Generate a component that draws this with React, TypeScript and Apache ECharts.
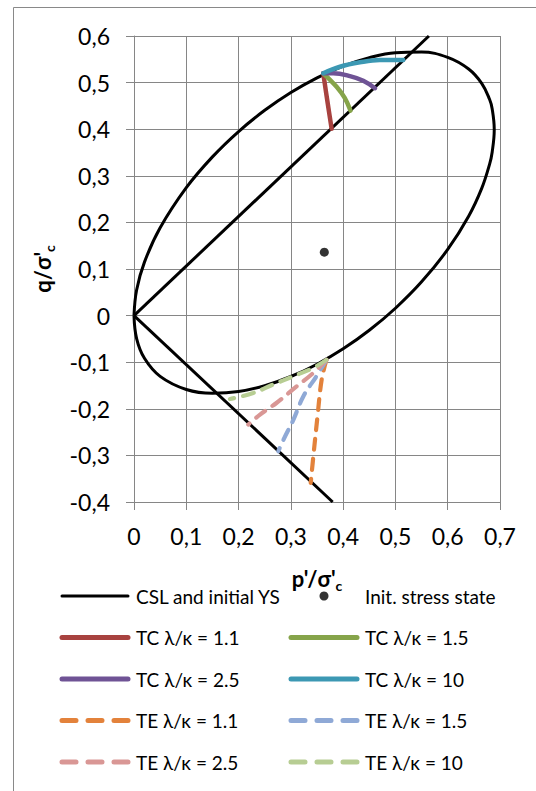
import React, { useEffect, useRef } from "react";
import * as echarts from "echarts";

const FONT = "Lato, 'Open Sans', sans-serif";

// Yield surface (ellipse): [p'/σ'c, q/σ'c]
const ellipse: [number, number][] = [
  [0, 0], [0.005, 0.0551], [0.02, 0.1148], [0.05, 0.1884], [0.1, 0.2745],
  [0.15, 0.3406], [0.2, 0.395], [0.25, 0.4405], [0.3, 0.4787], [0.35, 0.5103],
  [0.4, 0.5353], [0.45, 0.5535], [0.5, 0.5642], [0.55, 0.5656], [0.6, 0.5541],
  [0.64, 0.5292], [0.665, 0.4984], [0.68, 0.4642], [0.685, 0.444], [0.689, 0.3996],
  [0.685, 0.3506], [0.68, 0.3246], [0.665, 0.273], [0.64, 0.2132], [0.6, 0.1419],
  [0.55, 0.0724], [0.5, 0.0158], [0.45, -0.0315], [0.4, -0.0713], [0.35, -0.1043],
  [0.3, -0.1307], [0.25, -0.1505], [0.2, -0.163], [0.15, -0.1666], [0.1, -0.1585],
  [0.05, -0.1304], [0.02, -0.0916], [0.005, -0.0493], [0, 0],
];
const cslComp: [number, number][] = [[0, 0], [0.564, 0.6]];
const cslExt: [number, number][] = [[0, 0], [0.38, -0.4]];
const initState: [number, number][] = [[0.364, 0.136]];

const tc11: [number, number][] = [[0.362, 0.52], [0.37, 0.459], [0.378, 0.401]];
const tc15: [number, number][] = [[0.362, 0.52], [0.3875, 0.491], [0.403, 0.467], [0.414, 0.44]];
const tc25: [number, number][] = [[0.362, 0.52], [0.381, 0.52], [0.413, 0.514], [0.4385, 0.504], [0.461, 0.488]];
const tc10: [number, number][] = [[0.362, 0.52], [0.394, 0.534], [0.432, 0.5435], [0.47, 0.5485], [0.515, 0.5485]];

const te11: [number, number][] = [[0.368, -0.095], [0.359, -0.137], [0.351, -0.216], [0.343, -0.302], [0.338, -0.359]];
const te15: [number, number][] = [[0.368, -0.095], [0.349, -0.13], [0.324, -0.173], [0.305, -0.223], [0.286, -0.266], [0.276, -0.291]];
const te25: [number, number][] = [[0.368, -0.095], [0.343, -0.123], [0.311, -0.152], [0.273, -0.187], [0.241, -0.2125], [0.2186, -0.234]];
const te10: [number, number][] = [[0.368, -0.095], [0.343, -0.112], [0.305, -0.13], [0.266, -0.148], [0.228, -0.166], [0.1836, -0.179]];

const CSL_NAME = "CSL and initial YS";
const INIT_NAME = "Init. stress state";
const tcNames = ["TC λ/κ = 1.1", "TC λ/κ = 1.5", "TC λ/κ = 2.5", "TC λ/κ = 10"];
const teNames = ["TE λ/κ = 1.1", "TE λ/κ = 1.5", "TE λ/κ = 2.5", "TE λ/κ = 10"];
const tcColors = ["#A8423F", "#86A44A", "#6F5395", "#3C98B3"];
const teColors = ["#E3823B", "#8FA9D6", "#D99795", "#B7CD93"];
const tcData = [tc11, tc15, tc25, tc10];
const teData = [te11, te15, te25, te10];

const DASH = [11, 9];
const LEGEND_DASH = [14, 12];

const fmt = (v: number) => (Math.abs(v) < 1e-9 ? "0" : v.toFixed(1).replace(".", ","));

export default function App() {
  const ref = useRef<HTMLDivElement>(null);
  useEffect(() => {
    document.body.style.margin = "0";
    if (!ref.current) return;
    const chart = echarts.init(ref.current, undefined, { renderer: "svg" });
    const lineBase = { type: "line", symbol: "none", showSymbol: false };
    const series: any[] = [
      { ...lineBase, name: CSL_NAME, data: ellipse, smooth: 0.4, lineStyle: { color: "#000", width: 3 }, itemStyle: { color: "#000" }, z: 2 },
      { ...lineBase, name: CSL_NAME, data: cslComp, lineStyle: { color: "#000", width: 3 }, itemStyle: { color: "#000" }, z: 2 },
      { ...lineBase, name: CSL_NAME, data: cslExt, lineStyle: { color: "#000", width: 3 }, itemStyle: { color: "#000" }, z: 2 },
      { type: "scatter", name: INIT_NAME, data: initState, symbol: "circle", symbolSize: 9, itemStyle: { color: "#000" }, z: 3 },
    ];
    tcData.forEach((d, i) => {
      series.push({ ...lineBase, name: tcNames[i], data: d, smooth: 0.4, lineStyle: { color: tcColors[i], width: 4.5, cap: "round" }, itemStyle: { color: tcColors[i] }, z: 4 });
    });
    teData.forEach((d, i) => {
      series.push({ ...lineBase, name: teNames[i], data: d, smooth: 0.4, lineStyle: { color: teColors[i], width: 4.2, type: DASH, cap: "round" }, itemStyle: { color: teColors[i] }, z: 4 });
    });

    const hidden = { color: "rgba(0,0,0,0)", borderWidth: 0, borderColor: "rgba(0,0,0,0)" };
    const lineItem = (name: string, color: string, width: number, dashed: boolean) => ({
      name,
      itemStyle: hidden,
      lineStyle: { color, width, type: dashed ? LEGEND_DASH : "solid", cap: "round" },
    });

    const legendCommon = {
      orient: "vertical",
      padding: 0,
      itemWidth: 66,
      itemHeight: 9,
      itemGap: 21.5,
      top: 586,
      textStyle: { fontFamily: FONT, fontSize: 19, color: "#000", lineHeight: 20, padding: [0, 0, 0, 3] },
      selectedMode: false,
    };
    chart.setOption({
      animation: false,
      backgroundColor: "#fff",
      graphic: [
        { type: "rect", shape: { x: 13.5, y: 7.5, width: 700, height: 1000 }, style: { fill: "none", stroke: "#898989", lineWidth: 1 }, silent: true },
      ],
      grid: { left: 134, right: 36, top: 36, bottom: 289, containLabel: false },
      legend: [
        {
          ...legendCommon,
          left: 59.5,
          data: [
            lineItem(CSL_NAME, "#000", 3, false),
            lineItem(tcNames[0], tcColors[0], 5, false),
            lineItem(tcNames[2], tcColors[2], 5, false),
            lineItem(teNames[0], teColors[0], 5, true),
            lineItem(teNames[2], teColors[2], 5, true),
          ],
        },
        {
          ...legendCommon,
          left: 288.5,
          data: [
            { name: INIT_NAME, icon: "circle", itemStyle: { color: "#000" } },
            lineItem(tcNames[1], tcColors[1], 5, false),
            lineItem(tcNames[3], tcColors[3], 5, false),
            lineItem(teNames[1], teColors[1], 5, true),
            lineItem(teNames[3], teColors[3], 5, true),
          ],
        },
      ],
      xAxis: {
        type: "value",
        min: 0,
        max: 0.7,
        interval: 0.1,
        name: "{a|p'/σ'}{b|c}",
        nameLocation: "middle",
        nameGap: 62,
        nameTextStyle: {
          rich: {
            a: { fontFamily: FONT, fontSize: 22, fontWeight: "bold", color: "#000", lineHeight: 28 },
            b: { fontFamily: FONT, fontSize: 14, fontWeight: "bold", color: "#000", lineHeight: 28, verticalAlign: "bottom" },
          },
        },
        axisLine: { onZero: false, lineStyle: { color: "#868686", width: 1 } },
        axisTick: { show: true, inside: false, length: 8, lineStyle: { color: "#868686" } },
        splitLine: { show: true, lineStyle: { color: "#868686", width: 1 } },
        axisLabel: { formatter: fmt, fontFamily: FONT, fontSize: 23, color: "#000", margin: 22 },
      },
      yAxis: {
        type: "value",
        min: -0.4,
        max: 0.6,
        interval: 0.1,
        name: "{a|q/σ'}{b|c}",
        nameLocation: "middle",
        nameRotate: 90,
        nameGap: 78,
        nameTextStyle: {
          rich: {
            a: { fontFamily: FONT, fontSize: 22, fontWeight: "bold", color: "#000", lineHeight: 28 },
            b: { fontFamily: FONT, fontSize: 14, fontWeight: "bold", color: "#000", lineHeight: 28, verticalAlign: "bottom" },
          },
        },
        axisLine: { onZero: false, lineStyle: { color: "#868686", width: 1 } },
        axisTick: { show: true, inside: false, length: 8, lineStyle: { color: "#868686" } },
        splitLine: { show: true, lineStyle: { color: "#868686", width: 1 } },
        axisLabel: { formatter: fmt, fontFamily: FONT, fontSize: 23, color: "#000", margin: 24 },
      },
      series,
    });
    return () => chart.dispose();
  }, []);
  return <div ref={ref} style={{ width: 536, height: 791 }} />;
}
